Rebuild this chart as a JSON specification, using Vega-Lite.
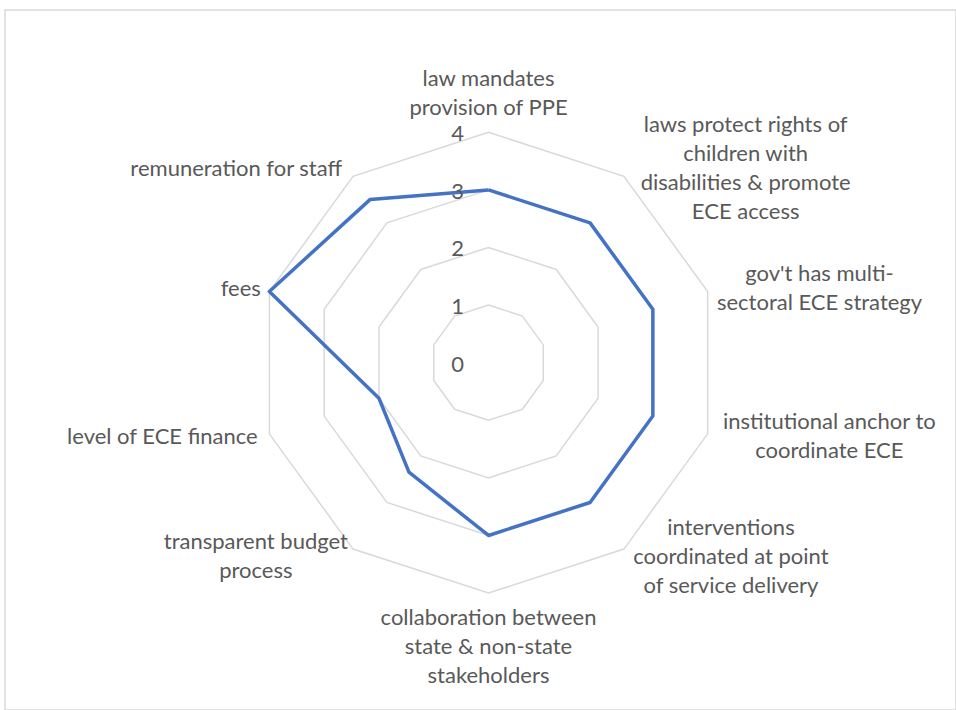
{
  "$schema": "https://vega.github.io/schema/vega-lite/v6.json",
  "width": 951,
  "height": 700,
  "autosize": "none",
  "padding": {"left": 5, "top": 10, "right": 0, "bottom": 0},
  "background": "white",
  "config": {
    "view": {"stroke": "#D9D9D9", "strokeWidth": 1.5},
    "font": "Lato"
  },
  "datasets": {
    "axes": [
      {"i": 0, "label": ["law mandates", "provision of PPE"], "value": 3},
      {"i": 1, "label": ["laws  protect rights of", "children with", "disabilities & promote", "ECE access"], "value": 3},
      {"i": 2, "label": ["gov't has multi-", "sectoral ECE strategy"], "value": 3},
      {"i": 3, "label": ["institutional anchor to", "coordinate ECE"], "value": 3},
      {"i": 4, "label": ["interventions", "coordinated at point", "of service delivery"], "value": 3},
      {"i": 5, "label": ["collaboration between", "state & non-state", "stakeholders"], "value": 3},
      {"i": 6, "label": ["transparent budget", "process"], "value": 2.35},
      {"i": 7, "label": ["level of ECE finance"], "value": 2},
      {"i": 8, "label": ["fees"], "value": 4},
      {"i": 9, "label": ["remuneration for staff"], "value": 3.5}
    ],
    "rings": [
      {"level": 0, "spokes": [0, 1, 2, 3, 4, 5, 6, 7, 8, 9, 10]},
      {"level": 1, "spokes": [0, 1, 2, 3, 4, 5, 6, 7, 8, 9, 10]},
      {"level": 2, "spokes": [0, 1, 2, 3, 4, 5, 6, 7, 8, 9, 10]},
      {"level": 3, "spokes": [0, 1, 2, 3, 4, 5, 6, 7, 8, 9, 10]},
      {"level": 4, "spokes": [0, 1, 2, 3, 4, 5, 6, 7, 8, 9, 10]}
    ]
  },
  "layer": [
    {
      "data": {"name": "rings"},
      "transform": [
        {"filter": "datum.level > 0"},
        {"flatten": ["spokes"], "as": ["k"]},
        {"calculate": "datum.level * sin(2 * PI * datum.k / 10)", "as": "px"},
        {"calculate": "datum.level * cos(2 * PI * datum.k / 10)", "as": "py"}
      ],
      "mark": {"type": "line", "stroke": "#D9D9D9", "strokeWidth": 1.5, "strokeJoin": "miter"},
      "encoding": {
        "x": {"field": "px", "type": "quantitative", "scale": {"domain": [-8.394, 8.116], "nice": false, "zero": false}, "axis": null},
        "y": {"field": "py", "type": "quantitative", "scale": {"domain": [-6.03, 6.123], "nice": false, "zero": false}, "axis": null},
        "detail": {"field": "level", "type": "nominal"},
        "order": {"field": "k", "type": "quantitative"}
      }
    },
    {
      "data": {"name": "rings"},
      "transform": [
        {"filter": "datum.level == 4"},
        {"flatten": ["spokes"], "as": ["k"]},
        {"calculate": "datum.k % 10", "as": "idx"},
        {"lookup": "idx", "from": {"data": {"name": "axes"}, "key": "i", "fields": ["value"]}},
        {"calculate": "datum.value * sin(2 * PI * datum.k / 10)", "as": "px"},
        {"calculate": "datum.value * cos(2 * PI * datum.k / 10)", "as": "py"}
      ],
      "mark": {"type": "line", "stroke": "#4472C4", "strokeWidth": 3.5, "strokeJoin": "round"},
      "encoding": {
        "x": {"field": "px", "type": "quantitative", "scale": {"domain": [-8.394, 8.116], "nice": false, "zero": false}, "axis": null},
        "y": {"field": "py", "type": "quantitative", "scale": {"domain": [-6.03, 6.123], "nice": false, "zero": false}, "axis": null},
        "order": {"field": "k", "type": "quantitative"}
      }
    },
    {
      "data": {"name": "rings"},
      "transform": [
        {"calculate": "0", "as": "px"}
      ],
      "mark": {"type": "text", "fontSize": 22, "color": "#595959", "align": "center", "baseline": "middle", "dx": -31, "dy": 2},
      "encoding": {
        "x": {"field": "px", "type": "quantitative", "scale": {"domain": [-8.394, 8.116], "nice": false, "zero": false}, "axis": null},
        "y": {"field": "level", "type": "quantitative", "scale": {"domain": [-6.03, 6.123], "nice": false, "zero": false}, "axis": null},
        "text": {"field": "level", "type": "quantitative"}
      }
    },
    {
      "data": {"name": "axes"},
      "transform": [
        {"calculate": "sin(2 * PI * datum.i / 10)", "as": "s"},
        {"calculate": "cos(2 * PI * datum.i / 10)", "as": "c"},
        {"calculate": "length(datum.label)", "as": "n"},
        {"calculate": "max(length(datum.label[0]), datum.n > 1 ? length(datum.label[1]) : 0, datum.n > 2 ? length(datum.label[2]) : 0, datum.n > 3 ? length(datum.label[3]) : 0)", "as": "m"},
        {"calculate": "abs(datum.s) > 0.1 ? 4 * datum.s + (datum.s > 0 ? 1 : -1) * (datum.m * 4.9 + 9) / 57.6 : 0", "as": "lx"},
        {"calculate": "(abs(datum.s) > 0.1 ? 4.16 * datum.c : 4 * datum.c + (datum.c > 0 ? 1 : -1) * (datum.n * 14.5 + 10) / 57.6) + (datum.n - 1) * 14.5 / 57.6", "as": "ly"}
      ],
      "mark": {"type": "text", "fontSize": 22, "color": "#595959", "align": "center", "baseline": "middle", "lineHeight": 29},
      "encoding": {
        "x": {"field": "lx", "type": "quantitative", "scale": {"domain": [-8.394, 8.116], "nice": false, "zero": false}, "axis": null},
        "y": {"field": "ly", "type": "quantitative", "scale": {"domain": [-6.03, 6.123], "nice": false, "zero": false}, "axis": null},
        "text": {"field": "label"}
      }
    }
  ]
}
